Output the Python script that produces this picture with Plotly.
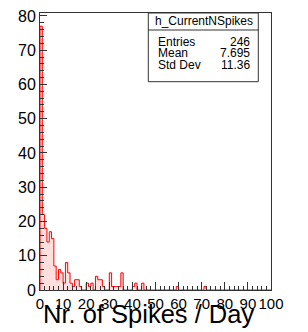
import plotly.graph_objects as go

# ---- data ----
bin_edges = list(range(0, 101))          # 100 bins of width 1, 0..100
counts = [0] * 100
nonzero = {
    0: 77, 1: 22, 2: 18, 3: 14, 4: 17, 5: 15, 6: 7, 7: 3, 8: 6, 9: 5,
    10: 2, 11: 8, 12: 5, 13: 2, 14: 1, 15: 3, 16: 3, 17: 1,
    20: 2, 21: 1, 22: 2, 24: 4, 25: 3, 26: 3, 27: 1,
    30: 5, 31: 1, 32: 1, 33: 1, 34: 1, 35: 5,
    40: 1, 41: 2, 44: 2, 59: 1, 71: 1,
}
for k, v in nonzero.items():
    counts[k] = v

hist_name = "h_CurrentNSpikes"
stat_labels = ["Entries", "Mean", "Std Dev"]
stat_values = ["246", "7.695", "11.36"]
x_title = "Nr. of Spikes / Day"
y_max = 1.05 * max(counts)

# step outline points
xs = [bin_edges[0]] + bin_edges[:-1] + [bin_edges[-1]]
ys = [0] + counts + [counts[-1]]

FONT = "Liberation Sans, Arial, Helvetica, sans-serif"

fig = go.Figure()
fig.add_trace(go.Scatter(
    x=xs, y=ys, mode="lines", line=dict(color="#ff0000", width=1, shape="hv"),
    fill="tozeroy", fillcolor="rgba(255,0,0,0.13)", hoverinfo="skip",
    showlegend=False,
))

axis_common = dict(
    showline=True, linecolor="#333333", linewidth=1, mirror=True,
    ticks="inside", tickcolor="#333333", showgrid=False, zeroline=False,
    automargin=False,
)
fig.update_xaxes(range=[0, 100], dtick=10, tick0=0, ticklen=8,
                 tickfont=dict(family=FONT, size=15, color="black"),
                 minor=dict(dtick=2, ticklen=4, ticks="inside", tickcolor="#333333", showgrid=False),
                 **axis_common)
fig.update_yaxes(range=[0, y_max], dtick=10, tick0=0, ticklen=7,
                 tickfont=dict(family=FONT, size=16, color="black"),
                 minor=dict(dtick=2, ticklen=3.5, ticks="inside", tickcolor="#333333", showgrid=False),
                 **axis_common)

# stats box
L, R = 40, 271
T, B = 13, 290
def px(x):
    return (x - L) / (R - L)
def py(y):
    return (B - y) / (B - T)

fig.add_shape(type="rect", xref="paper", yref="paper",
              x0=px(148.3), x1=px(258.3), y0=py(81.7), y1=py(13),
              line=dict(color="#333333", width=1), fillcolor="white", layer="above")
fig.add_shape(type="line", xref="paper", yref="paper",
              x0=px(148.3), x1=px(258.3), y0=py(30), y1=py(30),
              line=dict(color="#333333", width=1), layer="above")
fig.add_annotation(xref="paper", yref="paper", x=px(204), y=py(21),
                   text=hist_name, showarrow=False, xanchor="center", yanchor="middle",
                   font=dict(family=FONT, size=12, color="black"))
row_y = [41.5, 53, 65]
for lab, val, yy in zip(stat_labels, stat_values, row_y):
    fig.add_annotation(xref="paper", yref="paper", x=px(155.5), y=py(yy),
                       text=lab, showarrow=False, xanchor="left", yanchor="middle",
                       font=dict(family=FONT, size=12, color="black"))
    fig.add_annotation(xref="paper", yref="paper", x=px(252), y=py(yy),
                       text=val, showarrow=False, xanchor="right", yanchor="middle",
                       font=dict(family=FONT, size=12, color="black"))

fig.add_annotation(xref="paper", yref="paper", x=px(256), y=py(314),
                   text=x_title, showarrow=False, xanchor="right", yanchor="middle",
                   font=dict(family=FONT, size=25.5, color="black"))

fig.update_layout(
    width=308, height=332,
    margin=dict(l=L, r=308 - R, t=T, b=332 - B),
    paper_bgcolor="white", plot_bgcolor="white",
)

fig.write_html("out.html", config={"displayModeBar": False, "staticPlot": True},
               post_script="document.body.style.margin='0px';document.body.style.overflow='hidden';")
